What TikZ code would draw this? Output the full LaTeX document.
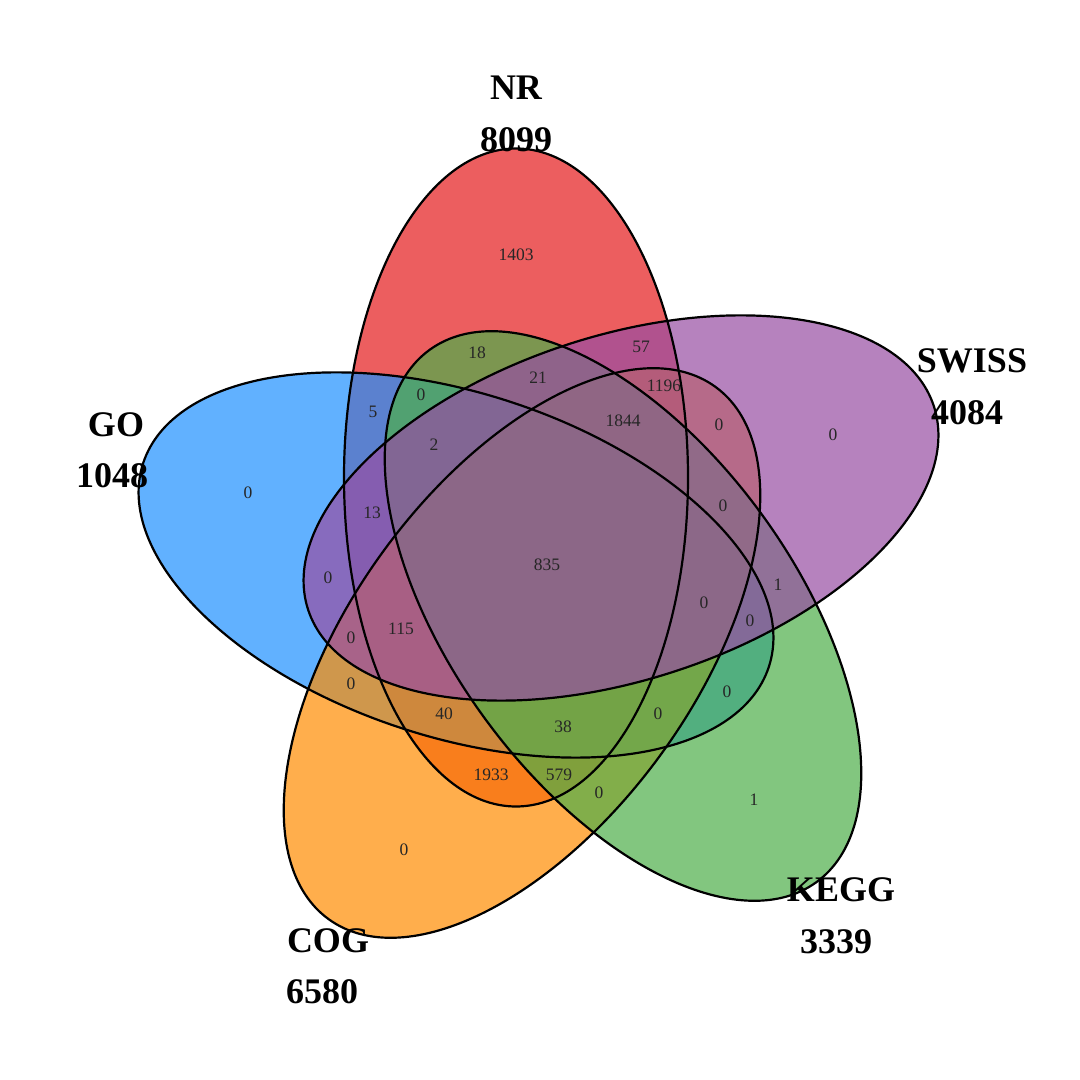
\documentclass[tikz,border=0pt]{standalone}
\usepackage{fontspec}
\setmainfont{Liberation Serif}
\definecolor{cNR}{HTML}{E41A1C}
\definecolor{cGO}{HTML}{1E90FF}
\definecolor{cCOG}{HTML}{FF8C00}
\definecolor{cKEGG}{HTML}{4DAF4A}
\definecolor{cSWISS}{HTML}{984EA3}
\tikzset{
  setfill/.style={fill=#1, fill opacity=0.7, draw=none},
  setline/.style={draw=black, line width=2.2pt},
  setname/.style={font=\fontsize{36}{36}\selectfont\bfseries, anchor=base, inner sep=0pt},
  cnt/.style={font=\fontsize{17.5}{17.5}\selectfont, text=black!85, inner sep=0pt}
}
\begin{document}
\begin{tikzpicture}[x=1pt,y=1pt]
\useasboundingbox[fill=white] (0,0) rectangle (1080,1080);
\def\ea{329}\def\eb{172}
\coordinate (cNR) at (516,602.5);
\coordinate (cGO) at (456,515);
\coordinate (cCOG) at (522,427);
\coordinate (cKEGG) at (623,464);
\coordinate (cSWISS) at (621,572);
% fills in drawing order
\fill[setfill=cNR, shift={(cNR)}, rotate=90] (0,0) ellipse [x radius=\ea, y radius=\eb];
\fill[setfill=cGO, shift={(cGO)}, rotate=162] (0,0) ellipse [x radius=\ea, y radius=\eb];
\fill[setfill=cCOG, shift={(cCOG)}, rotate=234] (0,0) ellipse [x radius=\ea, y radius=\eb];
\fill[setfill=cKEGG, shift={(cKEGG)}, rotate=306] (0,0) ellipse [x radius=\ea, y radius=\eb];
\fill[setfill=cSWISS, shift={(cSWISS)}, rotate=18] (0,0) ellipse [x radius=\ea, y radius=\eb];
% outlines
\draw[setline, shift={(cNR)}, rotate=90] (0,0) ellipse [x radius=\ea, y radius=\eb];
\draw[setline, shift={(cGO)}, rotate=162] (0,0) ellipse [x radius=\ea, y radius=\eb];
\draw[setline, shift={(cCOG)}, rotate=234] (0,0) ellipse [x radius=\ea, y radius=\eb];
\draw[setline, shift={(cKEGG)}, rotate=306] (0,0) ellipse [x radius=\ea, y radius=\eb];
\draw[setline, shift={(cSWISS)}, rotate=18] (0,0) ellipse [x radius=\ea, y radius=\eb];
% set names
\node[setname] (nNR) at (516,980) {NR};
\node[setname] (vNR) at (516,928) {8099};
\node[setname] (nGO) at (116,643) {GO};
\node[setname] (vGO) at (112,592) {1048};
\node[setname] (nSW) at (972,707) {SWISS};
\node[setname] (vSW) at (967,655) {4084};
\node[setname] (nKE) at (841,178) {KEGG};
\node[setname] (vKE) at (836,126) {3339};
\node[setname] (nCO) at (328,127) {COG};
\node[setname] (vCO) at (322,76) {6580};
% region counts
\node[cnt] (r01) at (516,825) {1403};
\node[cnt] (r02) at (641,733) {57};
\node[cnt] (r03) at (477,727) {18};
\node[cnt] (r04) at (538,702) {21};
\node[cnt] (r05) at (664,694) {1196};
\node[cnt] (r06) at (421,685) {0};
\node[cnt] (r07) at (373,668) {5};
\node[cnt] (r08) at (623,659) {1844};
\node[cnt] (r09) at (719,655) {0};
\node[cnt] (r10) at (434,635) {2};
\node[cnt] (r11) at (833,645) {0};
\node[cnt] (r12) at (248,587) {0};
\node[cnt] (r13) at (372,567) {13};
\node[cnt] (r14) at (723,574) {0};
\node[cnt] (r15) at (547,515) {835};
\node[cnt] (r16) at (778,495) {1};
\node[cnt] (r17) at (328,502) {0};
\node[cnt] (r18) at (704,477) {0};
\node[cnt] (r19) at (750,459) {0};
\node[cnt] (r20) at (401,451) {115};
\node[cnt] (r21) at (351,442) {0};
\node[cnt] (r22) at (351,396) {0};
\node[cnt] (r23) at (727,388) {0};
\node[cnt] (r24) at (444,366) {40};
\node[cnt] (r25) at (658,366) {0};
\node[cnt] (r26) at (563,353) {38};
\node[cnt] (r27) at (491,305) {1933};
\node[cnt] (r28) at (559,305) {579};
\node[cnt] (r29) at (599,287) {0};
\node[cnt] (r30) at (754,280) {1};
\node[cnt] (r31) at (404,230) {0};
\end{tikzpicture}
\end{document}
